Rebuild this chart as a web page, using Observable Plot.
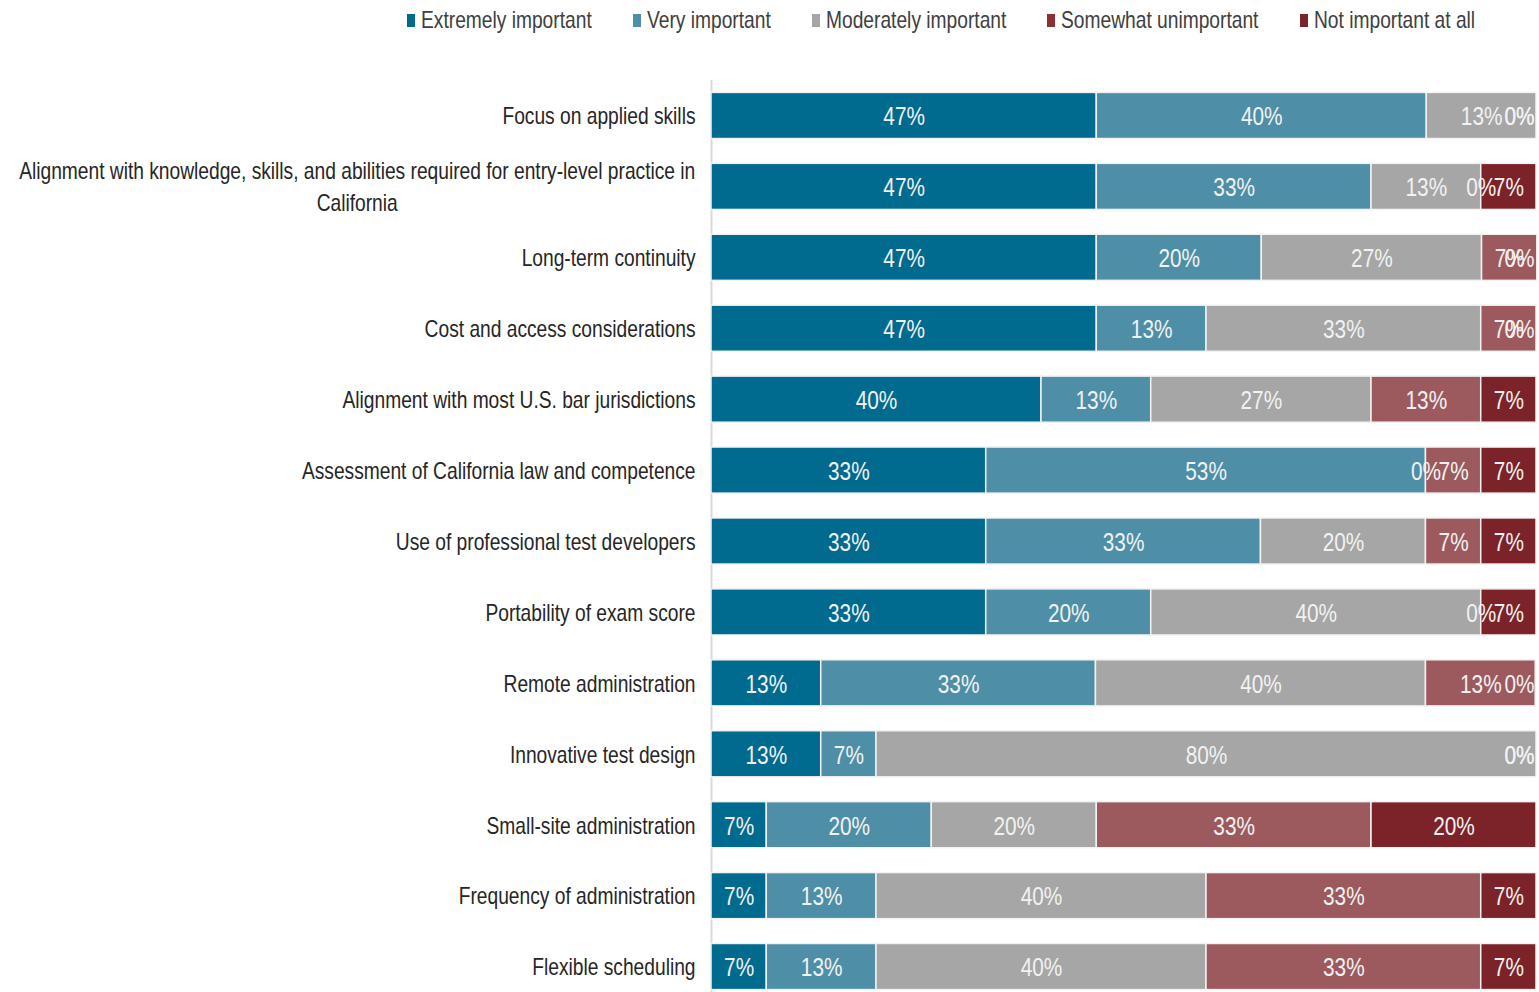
<!DOCTYPE html>
<html><head><meta charset="utf-8">
<script src="https://cdn.jsdelivr.net/npm/d3@7"></script>
<script src="https://cdn.jsdelivr.net/npm/@observablehq/plot@0.6"></script>
<style>
html,body{margin:0;padding:0;background:#fff;overflow:hidden;}
body{width:1539px;height:992px;font-family:"Liberation Sans",Arial,sans-serif;}
#legend{height:40px;display:flex;align-items:center;padding-left:407px;box-sizing:border-box;font-size:24px;color:#404040;white-space:nowrap;overflow:hidden;}
.item{display:flex;align-items:center;margin-right:41px;flex:none;}
.sw{width:8px;height:13px;margin-right:6px;flex:none;}
.lt{display:inline-block;transform:scaleX(0.8);transform-origin:left center;}
</style></head>
<body>
<div id="legend"></div>
<div id="chart"></div>
<script>
const categories = [
  "Focus on applied skills",
  "Alignment with knowledge, skills, and abilities required for entry-level practice in California",
  "Long-term continuity",
  "Cost and access considerations",
  "Alignment with most U.S. bar jurisdictions",
  "Assessment of California law and competence",
  "Use of professional test developers",
  "Portability of exam score",
  "Remote administration",
  "Innovative test design",
  "Small-site administration",
  "Frequency of administration",
  "Flexible scheduling"
];
const series = ["Extremely important","Very important","Moderately important","Somewhat unimportant","Not important at all"];
const extremely  = [46.7,46.7,46.7,46.7,40.0,33.3,33.3,33.3,13.3,13.3, 6.7, 6.7, 6.7];
const very       = [40.0,33.3,20.0,13.3,13.3,53.3,33.3,20.0,33.3, 6.7,20.0,13.3,13.3];
const moderately = [13.3,13.3,26.7,33.3,26.7, 0.0,20.0,40.0,40.0,80.0,20.0,40.0,40.0];
const somewhat   = [ 0.0, 0.0, 6.7, 6.7,13.3, 6.7, 6.7, 0.0,13.3, 0.0,33.3,33.3,33.3];
const notAtAll   = [ 0.0, 6.7, 0.0, 0.0, 6.7, 6.7, 6.7, 6.7, 0.0, 0.0,20.0, 6.7, 6.7];
const barColors    = ["#006a8f","#4e8fa7","#a6a6a6","#9c5a5e","#7b2328"];
const legendColors = ["#006a8f","#4e8fa7","#a6a6a6","#8e2f33","#7b2328"];

const SQUEEZE = 0.8; // narrow-font emulation

const valuesBySeries = [extremely, very, moderately, somewhat, notAtAll];
const rows = [];
categories.forEach((c, i) => {
  let acc = 0;
  series.forEach((s, j) => {
    const v = valuesBySeries[j][i];
    rows.push({category: c, series: s, value: v, x1: acc, x2: acc + v, mid: acc + v / 2});
    acc += v;
  });
});
const labelInner = rows.filter(d => d.mid <= 98);
const labelEdge = rows.filter(d => d.mid > 98);

// legend
const lg = document.getElementById("legend");
const legendTexts = [];
series.forEach((s, j) => {
  const it = document.createElement("div"); it.className = "item";
  const sw = document.createElement("div"); sw.className = "sw"; sw.style.background = legendColors[j];
  const tx = document.createElement("span"); tx.className = "lt"; tx.textContent = s;
  it.appendChild(sw); it.appendChild(tx); lg.appendChild(it);
  legendTexts.push(tx);
});
legendTexts.forEach(tx => {
  const w = tx.getBoundingClientRect().width; // already scaled
  const full = tx.offsetWidth;
  tx.style.marginRight = (w - full) + "px";
});

function wrap(t, maxChars) {
  const words = t.split(" "); const lines = []; let cur = "";
  for (const w of words) {
    if (cur && (cur + " " + w).length > maxChars) { lines.push(cur); cur = w; }
    else cur = cur ? cur + " " + w : w;
  }
  lines.push(cur);
  return lines.join("\n");
}

const fontFam = '"Liberation Sans",Arial,sans-serif';
const chart = Plot.plot({
  width: 1539, height: 972,
  marginLeft: 711, marginRight: 3, marginTop: 40, marginBottom: 10,
  style: {fontFamily: fontFam, fontSize: "24px", background: "#fff"},
  x: {domain: [0, 100], axis: null},
  y: {domain: categories, paddingInner: 0.35, paddingOuter: 0.175, round: false, axis: null},
  color: {domain: series, range: barColors},
  marks: [
    Plot.ruleX([0], {stroke: "#d9d9d9", strokeWidth: 2}),
    Plot.barX(rows, {y: "category", x1: "x1", x2: "x2", fill: "series", stroke: "#f2f2f2", strokeWidth: 1.5}),
    Plot.text(labelInner, {y: "category", x: "mid", text: d => Math.round(d.value) + "%", fill: "#f2f2f2", fontSize: 26, dy: 1}),
    Plot.text(labelEdge, {y: "category", x: 100, text: d => Math.round(d.value) + "%", fill: "#f2f2f2", fontSize: 26, textAnchor: "end", dx: -2, dy: 1}),
    Plot.axisY({tickSize: 0, tickPadding: 16, fontSize: 24, fill: "#262626", lineHeight: 1.35, label: null, dy: -2, tickFormat: d => wrap(d, 88)})
  ]
});
document.getElementById("chart").appendChild(chart);

// center multi-line category labels relative to each other (block stays right-aligned)
chart.querySelectorAll("g[aria-label='y-axis tick label'] text").forEach(t => {
  const spans = t.querySelectorAll("tspan");
  if (spans.length < 2) return;
  const widths = Array.from(spans, s => s.getComputedTextLength());
  const w = Math.max(...widths);
  t.setAttribute("text-anchor", "middle");
  spans.forEach(s => s.setAttribute("x", -w / 2));
});
// horizontally condense all text around its anchor point
chart.querySelectorAll("text").forEach(t => {
  const tr = t.getAttribute("transform") || "";
  t.setAttribute("transform", (tr + " scale(" + SQUEEZE + ",1)").trim());
});
</script>
</body></html>
